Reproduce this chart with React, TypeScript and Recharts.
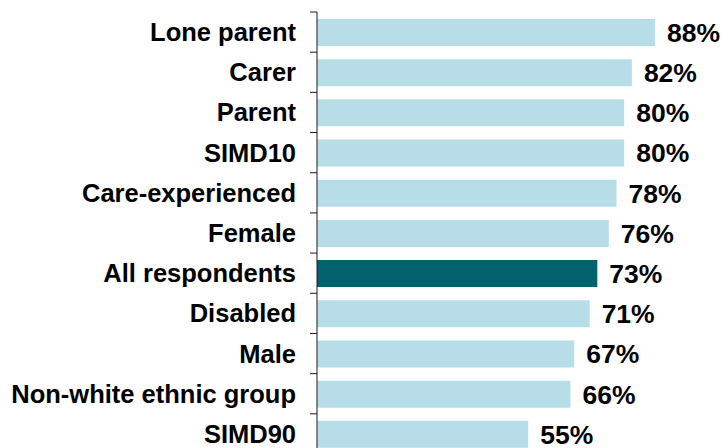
import { BarChart, Bar, XAxis, YAxis, Cell, LabelList } from "recharts";

const categories = [
  "Lone parent",
  "Carer",
  "Parent",
  "SIMD10",
  "Care-experienced",
  "Female",
  "All respondents",
  "Disabled",
  "Male",
  "Non-white ethnic group",
  "SIMD90",
];
const values = [88, 82, 80, 80, 78, 76, 73, 71, 67, 66, 55];
const highlighted = "All respondents";

const data = categories.map((name, i) => ({ name, value: values[i] }));

const WIDTH = 725;
const HEIGHT = 454;
const TOP = 12;
const BAND = (HEIGHT - TOP) / categories.length;
const FONT = '"Liberation Sans", Arial, sans-serif';

function CategoryTick(props: any) {
  const { x, y, payload } = props;
  const edge = y - BAND / 2;
  return (
    <g>
      <line x1={x} x2={x - 7} y1={edge} y2={edge} stroke="#1a1a1a" strokeWidth={1} />
      <text
        x={x - 21}
        y={y}
        textAnchor="end"
        dominantBaseline="central"
        fontFamily={FONT}
        fontWeight="bold"
        fontSize={25.5}
        fill="#000"
      >
        {payload.value}
      </text>
    </g>
  );
}

export default function App() {
  return (
    <div
      style={{
        position: "absolute",
        left: 0,
        top: 0,
        width: WIDTH,
        height: 448,
        overflow: "hidden",
        background: "#fff",
      }}
    >
      <BarChart
        width={WIDTH}
        height={HEIGHT}
        data={data}
        layout="vertical"
        margin={{ top: TOP, right: 24, bottom: 0, left: 0 }}
      >
        <XAxis type="number" domain={[0, 100]} hide />
        <YAxis
          type="category"
          dataKey="name"
          width={317}
          interval={0}
          tickSize={0}
          tickMargin={0}
          tickLine={false}
          axisLine={{ stroke: "#1a1a1a", strokeWidth: 1 }}
          tick={<CategoryTick />}
        />
        <Bar dataKey="value" barSize={27} isAnimationActive={false}>
          {data.map((d) => (
            <Cell key={d.name} fill={d.name === highlighted ? "#02636e" : "#b7dee8"} />
          ))}
          <LabelList
            dataKey="value"
            position="right"
            offset={12}
            formatter={(v: any) => `${v}%`}
            style={{ fontFamily: FONT, fontWeight: "bold", fontSize: 26.5, fill: "#000" }}
          />
        </Bar>
      </BarChart>
    </div>
  );
}
